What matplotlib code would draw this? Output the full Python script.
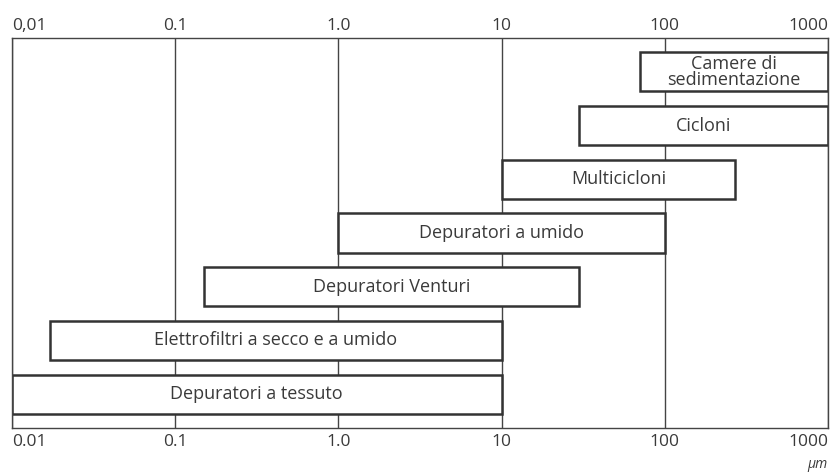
import matplotlib
matplotlib.use("Agg")
import matplotlib.pyplot as plt
import numpy as np

labels = ["Camere di\nsedimentazione", "Cicloni", "Multicicloni", "Depuratori a umido",
          "Depuratori Venturi", "Elettrofiltri a secco e a umido", "Depuratori a tessuto"]
starts = [70, 30, 10, 1.0, 0.15, 0.017, 0.01]
ends = [1000, 1000, 270, 100, 30, 10, 10]
ticks = [0.01, 0.1, 1.0, 10, 100, 1000]
top_labels = ["0,01", "0.1", "1.0", "10", "100", "1000"]
bottom_labels = ["0.01", "0.1", "1.0", "10", "100", "1000"]

plt.rcParams['font.family'] = ['Open Sans', 'DejaVu Sans']
txt = '#3a3a3a'
fig = plt.figure(figsize=(8.33, 4.72), dpi=100)
ax = fig.add_axes([12/833, 1-428/472, 816/833, 390/472])
ax.set_xscale('log')
ax.set_xlim(0.01, 1000)
ax.set_ylim(6.63, -0.63)

for t in ticks:
    ax.axvline(t, color='#444444', lw=1.0, zorder=1)

y = np.arange(len(labels))
widths = [e - s for s, e in zip(starts, ends)]
ax.barh(y, widths, left=starts, height=0.73, color='white', edgecolor='#333333',
        linewidth=1.8, zorder=2)
for yi, s, e, lab in zip(y, starts, ends, labels):
    ax.text(np.sqrt(s * e), yi, lab, ha='center', va='center', fontsize=13,
            color=txt, zorder=3, linespacing=0.85)

ax.set_xticks([])
ax.set_yticks([])
ax.xaxis.set_minor_locator(matplotlib.ticker.NullLocator())
for sp in ax.spines.values():
    sp.set_color('#444444')
    sp.set_linewidth(1.0)

for i, t in enumerate(ticks):
    ha = 'center'
    if i == 0:
        ha = 'left'
    elif i == len(ticks) - 1:
        ha = 'right'
    ax.annotate(top_labels[i], (t, -0.63), xytext=(0, 3), textcoords='offset points',
                ha=ha, va='bottom', fontsize=12.5, color=txt, annotation_clip=False)
    ax.annotate(bottom_labels[i], (t, 6.63), xytext=(0, -4), textcoords='offset points',
                ha=ha, va='top', fontsize=12.5, color=txt, annotation_clip=False)

ax.annotate('µm', (1000, 6.63), xytext=(0, -21), textcoords='offset points',
            ha='right', va='top', fontsize=10, color=txt, style='italic',
            annotation_clip=False)

fig.savefig('out.png', dpi=100)
